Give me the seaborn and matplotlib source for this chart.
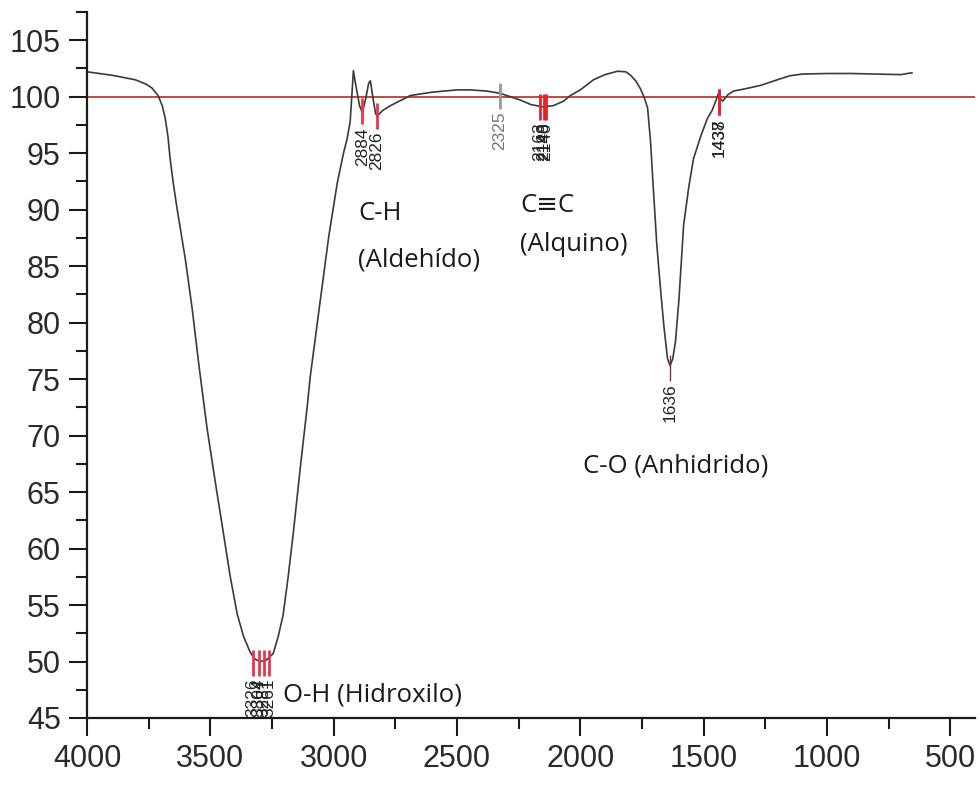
import matplotlib
matplotlib.use("Agg")
import matplotlib.pyplot as plt
from matplotlib.ticker import MultipleLocator
import seaborn as sns
import pandas as pd

# IR transmittance spectrum (wavenumber in cm-1, %T)
wavenumber = [4000, 3900, 3805, 3760, 3736, 3712, 3695, 3683, 3672, 3663, 3650, 3635,
              3602, 3574, 3545, 3513, 3480, 3448, 3420, 3391, 3365, 3338, 3318, 3298,
              3275, 3245, 3225, 3205, 3185, 3164, 3135, 3107, 3095, 3060, 3020, 2985,
              2960, 2945, 2933, 2925, 2920, 2910, 2895, 2884, 2870, 2858, 2851, 2840,
              2830, 2823, 2800, 2770, 2689, 2600, 2500, 2446, 2380, 2325, 2243, 2200,
              2153, 2110, 2068, 2040, 2000, 1946, 1900, 1849, 1815, 1796, 1775, 1756,
              1740, 1727, 1715, 1703, 1690, 1674, 1660, 1646, 1636, 1625, 1614, 1600,
              1581, 1560, 1541, 1510, 1484, 1465, 1451, 1439, 1431, 1423, 1400, 1378,
              1330, 1269, 1200, 1150, 1100, 1000, 900, 800, 700, 660, 654]
transmittance = [102.2, 101.9, 101.5, 101.1, 100.75, 100.1, 99.2, 98.1, 96.5, 94.5, 92.3, 90.1,
                 85.7, 81.3, 76.0, 70.6, 65.9, 61.5, 57.6, 54.2, 52.2, 50.8, 50.2, 50.0,
                 50.1, 50.7, 52.2, 54.1, 57.4, 61.3, 67.2, 72.6, 75.2, 81.0, 87.6, 92.4,
                 95.0, 96.3, 97.8, 100.5, 102.3, 101.0, 99.2, 98.6, 99.8, 101.2, 101.4, 99.8,
                 98.5, 98.3, 98.8, 99.2, 100.1, 100.4, 100.6, 100.6, 100.5, 100.3, 99.7, 99.3,
                 99.1, 99.2, 99.6, 100.1, 100.6, 101.5, 101.95, 102.25, 102.2, 101.9, 101.4, 100.7,
                 99.9, 99.0, 96.0, 91.6, 87.0, 82.8, 79.5, 76.8, 76.2, 76.8, 78.3, 82.0,
                 88.6, 92.0, 94.5, 96.6, 98.1, 98.8, 99.6, 100.3, 99.8, 99.6, 100.2, 100.5,
                 100.7, 101.0, 101.5, 101.85, 102.0, 102.05, 102.05, 102.0, 101.95, 102.1, 102.1]

baseline = 100

# Peak picks: position, label, %T at the pick
peak_pos = [3326, 3304, 3281, 3261, 2884, 2826, 2325, 2163, 2148, 2140, 1636, 1438, 1437]
peak_labels = ["3326", "3304", "3281", "3261", "2884", "2826", "2325",
               "2163", "2148", "2140", "1636", "1438", "1437"]
peak_t = [49.9, 49.9, 49.9, 49.9, 98.7, 98.3, 100.1, 99.1, 99.1, 99.1, 76.0, 99.5, 99.5]
peak_colors = ["#e8354a"] * 6 + ["#999999"] + ["#e8202e"] * 3 + ["#8a2a2a"] + ["#e8202e"] * 2
label_colors = ["#222222"] * 6 + ["#777777"] + ["#222222"] * 6

# Band assignments, one text line each
band_text = ["C-H", "(Aldehído)", "C≡C", "(Alquino)", "C-O (Anhidrido)", "O-H (Hidroxilo)"]
band_x = [2901, 2901, 2244, 2244, 1988, 3205]
band_y = [89.7, 85.5, 90.4, 86.9, 67.35, 47.0]

xticks = [4000, 3500, 3000, 2500, 2000, 1500, 1000, 500]
yticks = [45, 50, 55, 60, 65, 70, 75, 80, 85, 90, 95, 100, 105]

sns.set_style("ticks")
plt.rcParams["font.family"] = ["Liberation Sans", "DejaVu Sans"]

fig = plt.figure(figsize=(9.8, 7.96), dpi=100)
ax = fig.add_axes([0.0888, 0.098, 0.9062, 0.887])

df = pd.DataFrame({"wavenumber": wavenumber, "T": transmittance})
ax.axhline(baseline, color="#bf3a36", lw=1.3, zorder=1)
sns.lineplot(data=df, x="wavenumber", y="T", sort=False, estimator=None,
             color="#3a3a3a", lw=1.2, ax=ax, zorder=2)

half = 1.15
for pos, lab, t, c, lc in zip(peak_pos, peak_labels, peak_t, peak_colors, label_colors):
    lw = 1.0 if lab == "1636" else 2.0
    ax.vlines(pos, t - half, t + half, color=c, lw=lw, zorder=3)
    ax.text(pos, t - half - 0.25, lab, rotation=90, ha="center", va="top",
            fontsize=12.5, color=lc, clip_on=False, zorder=4)

for txt, bx, by in zip(band_text, band_x, band_y):
    ax.text(bx, by, txt, ha="left", va="center", fontsize=18.5, color="#1a1a1a",
            family=["Open Sans", "DejaVu Sans"])

ax.set_xlim(4000, 399)
ax.set_ylim(45, 107.5)
ax.set_xticks(xticks)
ax.set_yticks(yticks)
ax.xaxis.set_minor_locator(MultipleLocator(250))
ax.yaxis.set_minor_locator(MultipleLocator(2.5))
ax.set_xlabel("")
ax.set_ylabel("")
ax.tick_params(axis="both", which="major", length=13, width=1.5, labelsize=22,
               labelcolor="#2a2a2a", color="#1a1a1a", pad=6, direction="out")
ax.tick_params(axis="both", which="minor", length=8, width=1.5, color="#1a1a1a",
               direction="out")
for side in ["top", "right"]:
    ax.spines[side].set_visible(False)
for side in ["left", "bottom"]:
    ax.spines[side].set_linewidth(1.6)
    ax.spines[side].set_color("#1a1a1a")

fig.savefig("out.png", dpi=100, facecolor="white")
